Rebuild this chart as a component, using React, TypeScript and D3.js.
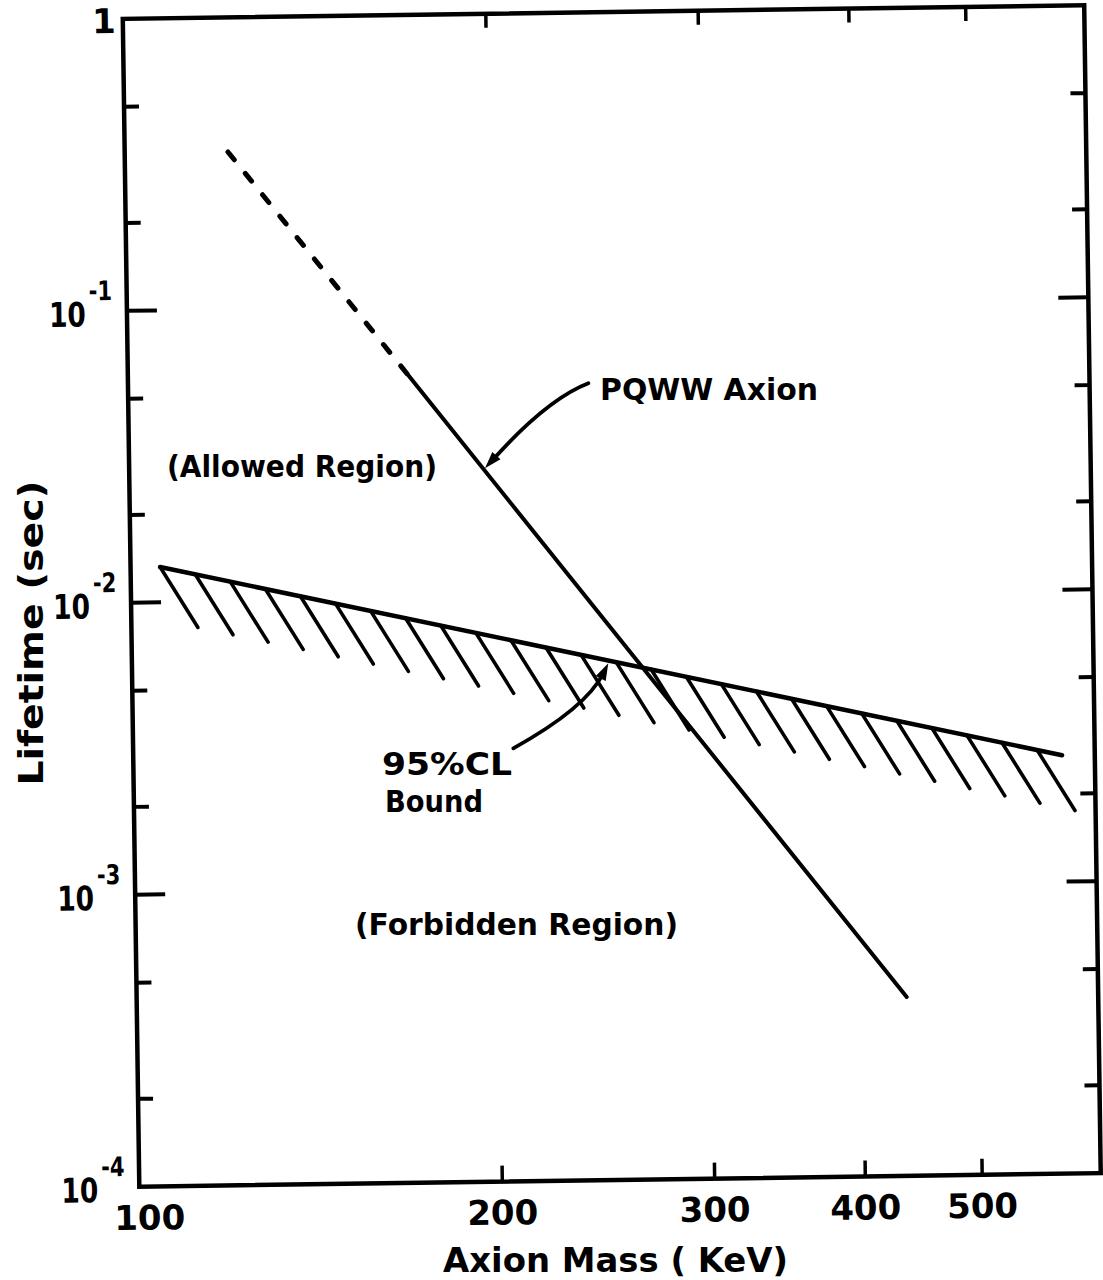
import React from "react";
import * as d3 from "d3";

// ---------- data ----------
const massTickValues = [200, 300, 400, 500];
const massLabelValues = [100, 200, 300, 400, 500];
const massLabelTexts = ["100", "200", "300", "400", "500"];

const lifetimeDecades = [1, 1e-1, 1e-2, 1e-3, 1e-4];
const lifetimeDecadeExps = ["", "-1", "-2", "-3", "-4"];
const lifetimeMinor = [0.5, 0.2, 0.05, 0.02, 0.005, 0.002, 0.0005, 0.0002];

// PQWW axion lifetime curve (first segment dashed, second solid)
const pqwwMass = [121.8, 170.7, 435];
const pqwwLifetime = [0.346, 0.0585, 4.1e-4];

// 95% CL bound
const boundMass = [105.8, 589];
const boundLifetime = [0.01322, 0.00271];

// hatching under the bound
const HATCH_COUNT = 26;
const HATCH_LAST_MASS = 561.7;

const FONT = "'DejaVu Sans', 'Liberation Sans', sans-serif";

function arrowHead(tipX: number, tipY: number, dx: number, dy: number, len = 17, half = 5.5) {
  const n = Math.hypot(dx, dy);
  const ux = dx / n, uy = dy / n;
  const bx = tipX - ux * len, by = tipY - uy * len;
  const px = -uy, py = ux;
  return `${tipX},${tipY} ${bx + px * half},${by + py * half} ${bx - px * half},${by - py * half}`;
}

export default function App() {
  const W = 1103, H = 1280;
  const left = 131, right = 1092.5, top = 12, bottom = 1180;
  const cx = (left + right) / 2, cy = 595.75;

  const x = d3.scaleLog().domain([100, 627]).range([left, right]);
  const y = d3.scaleLog().domain([1e-4, 1]).range([bottom, top]);

  const line = d3
    .line<[number, number]>()
    .x((d) => x(d[0]))
    .y((d) => y(d[1]));

  const pqwwPts: [number, number][] = pqwwMass.map((m, i) => [m, pqwwLifetime[i]]);
  const boundPts: [number, number][] = boundMass.map((m, i) => [m, boundLifetime[i]]);

  // hatches
  const bx0 = x(boundMass[0]), by0 = y(boundLifetime[0]);
  const bx1 = x(boundMass[1]), by1 = y(boundLifetime[1]);
  const slope = (by1 - by0) / (bx1 - bx0);
  const hLast = x(HATCH_LAST_MASS);
  const hatches = d3.range(HATCH_COUNT).map((i) => {
    const hx = bx0 + (i * (hLast - bx0)) / (HATCH_COUNT - 1);
    const hy = by0 + slope * (hx - bx0);
    return { x1: hx, y1: hy, x2: hx + 37, y2: hy + 61 };
  });

  const sw = 4.5;

  return (
    <svg
      width={W}
      height={H}
      style={{ position: "absolute", left: 0, top: 0, background: "#fff" }}
      fontFamily={FONT}
      fontWeight="bold"
    >
      <rect x={0} y={0} width={W} height={H} fill="#fff" />
      <g transform={`rotate(-0.81 ${cx} ${cy})`}>
        {/* frame */}
        <rect
          x={left}
          y={top}
          width={right - left}
          height={bottom - top}
          fill="none"
          stroke="#000"
          strokeWidth={sw}
        />
        {/* x ticks bottom & top */}
        {massTickValues.map((m) => (
          <g key={"xt" + m}>
            <line x1={x(m)} x2={x(m)} y1={bottom} y2={bottom - 16} stroke="#000" strokeWidth={3.5} />
            <line x1={x(m)} x2={x(m)} y1={top} y2={top + 14} stroke="#000" strokeWidth={3.5} />
          </g>
        ))}
        {/* y ticks left & right */}
        {lifetimeDecades.slice(1, 4).map((v) => (
          <g key={"yd" + v}>
            <line x1={left} x2={left + 30} y1={y(v)} y2={y(v)} stroke="#000" strokeWidth={4} />
            <line x1={right} x2={right - 30} y1={y(v)} y2={y(v)} stroke="#000" strokeWidth={4} />
          </g>
        ))}
        {lifetimeMinor.map((v) => (
          <g key={"ym" + v}>
            <line x1={left} x2={left + 15} y1={y(v)} y2={y(v)} stroke="#000" strokeWidth={4} />
            <line x1={right} x2={right - 15} y1={y(v)} y2={y(v)} stroke="#000" strokeWidth={4} />
          </g>
        ))}
        {/* x tick labels */}
        {massLabelValues.map((m, i) => (
          <text
            key={"xl" + m}
            x={x(m) + (i === 0 ? 10 : 0)}
            y={bottom + 43}
            fontSize={34}
            textAnchor="middle"
          >
            {massLabelTexts[i]}
          </text>
        ))}
        {/* y tick labels */}
        {lifetimeDecades.map((v, i) =>
          i === 0 ? (
            <text key="yl1" x={left - 19} y={y(v) + 14} fontSize={34} textAnchor="middle">
              1
            </text>
          ) : (
            <text
              key={"yl" + v}
              transform={`translate(${left - 78} ${y(v) + 15}) scale(0.78 1)`}
              fontSize={34}
            >
              10
              <tspan dx={4} dy={-26} fontSize={27}>
                {lifetimeDecadeExps[i]}
              </tspan>
            </text>
          )
        )}

        {/* hatching */}
        {hatches.map((h, i) => (
          <line
            key={"h" + i}
            x1={h.x1}
            y1={h.y1}
            x2={h.x2}
            y2={h.y2}
            stroke="#000"
            strokeWidth={3.6}
            strokeLinecap="round"
          />
        ))}
        {/* bound line */}
        <path d={line(boundPts) || ""} fill="none" stroke="#000" strokeWidth={4.5} strokeLinecap="round" />
        {/* PQWW line */}
        <path
          d={line(pqwwPts.slice(0, 2)) || ""}
          fill="none"
          stroke="#000"
          strokeWidth={5}
          strokeDasharray="10 17.5"
          strokeLinecap="round"
        />
        <path d={line(pqwwPts.slice(1)) || ""} fill="none" stroke="#000" strokeWidth={4} strokeLinecap="round" />
      </g>

      {/* axis titles */}
      <text x={443} y={1272} fontSize={34} textLength={345} lengthAdjust="spacingAndGlyphs">
        Axion Mass ( KeV)
      </text>
      <text
        transform="translate(43 633) rotate(-90)"
        fontSize={33}
        textAnchor="middle"
        textLength={305}
        lengthAdjust="spacingAndGlyphs"
      >
        Lifetime  (sec)
      </text>

      {/* annotations */}
      <text x={600} y={400} fontSize={31} textLength={218} lengthAdjust="spacingAndGlyphs">
        PQWW Axion
      </text>
      <text x={167} y={477} fontSize={31} textLength={270} lengthAdjust="spacingAndGlyphs">
        (Allowed Region)
      </text>
      <text x={382} y={775} fontSize={32} textLength={130} lengthAdjust="spacingAndGlyphs">
        95%CL
      </text>
      <text x={385} y={812} fontSize={31} textLength={98} lengthAdjust="spacingAndGlyphs">
        Bound
      </text>
      <text x={355} y={935} fontSize={31} textLength={323} lengthAdjust="spacingAndGlyphs">
        (Forbidden Region)
      </text>

      {/* arrows */}
      <path d="M588.3,383.3 Q547.4,399.2 494,458.5" fill="none" stroke="#000" strokeWidth={3.8} strokeLinecap="round" />
      <polygon points={arrowHead(485, 468.3, -15, 16.6)} fill="#000" />
      <path d="M513.3,748.3 Q586.1,708 603.5,673" fill="none" stroke="#000" strokeWidth={3.8} strokeLinecap="round" />
      <polygon points={arrowHead(608.3, 663.3, 8.3, -16.7)} fill="#000" />
    </svg>
  );
}
